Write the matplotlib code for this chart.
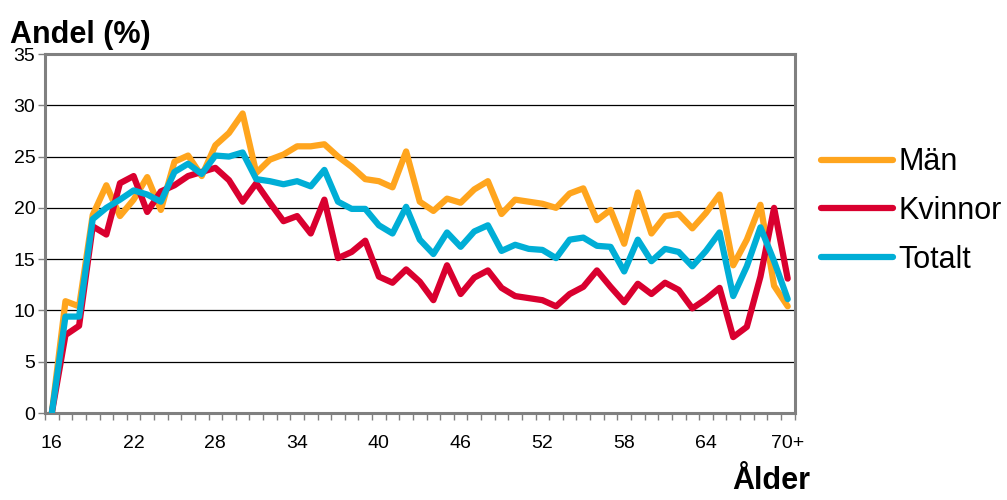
import numpy as np
import matplotlib
matplotlib.use("Agg")
import matplotlib.pyplot as plt

plt.rcParams['font.family'] = ['Liberation Sans', 'DejaVu Sans']

# ages 16..69 and 70+
ages = [str(a) for a in range(16, 70)] + ['70+']

man = [0, 10.9, 10.4, 19.3, 22.2, 19.2, 20.8, 23.0, 19.8, 24.5,
       25.1, 23.1, 26.1, 27.3, 29.2, 23.4, 24.7, 25.2, 26.0, 26.0,
       26.2, 25.0, 24.0, 22.8, 22.6, 22.0, 25.5, 20.6, 19.7, 20.9,
       20.5, 21.8, 22.6, 19.4, 20.8, 20.6, 20.4, 20.0, 21.4, 21.9,
       18.8, 19.8, 16.5, 21.5, 17.5, 19.2, 19.4, 18.0, 19.5, 21.3,
       14.4, 16.9, 20.3, 12.4, 10.4]
kvinnor = [0, 7.6, 8.5, 18.2, 17.4, 22.4, 23.1, 19.6, 21.6, 22.2,
           23.1, 23.5, 23.9, 22.7, 20.6, 22.4, 20.5, 18.7, 19.2, 17.5,
           20.8, 15.1, 15.7, 16.8, 13.3, 12.7, 14.0, 12.8, 11.0, 14.4,
           11.6, 13.2, 13.9, 12.2, 11.4, 11.2, 11.0, 10.4, 11.6, 12.3,
           13.9, 12.3, 10.8, 12.6, 11.6, 12.7, 12.0, 10.2, 11.1, 12.2,
           7.4, 8.4, 13.3, 20.0, 13.1]
totalt = [0, 9.4, 9.4, 18.9, 20.0, 20.8, 21.7, 21.3, 20.6, 23.5,
          24.3, 23.3, 25.1, 25.0, 25.4, 22.8, 22.6, 22.3, 22.6, 22.1,
          23.7, 20.6, 19.9, 19.9, 18.3, 17.5, 20.1, 16.9, 15.5, 17.6,
          16.2, 17.7, 18.3, 15.8, 16.4, 16.0, 15.9, 15.1, 16.9, 17.1,
          16.3, 16.2, 13.8, 16.9, 14.8, 16.0, 15.7, 14.3, 15.8, 17.6,
          11.4, 14.3, 18.1, 14.8, 11.1]

series = [('Män', man, '#FFA51E'),
          ('Kvinnor', kvinnor, '#D9002F'),
          ('Totalt', totalt, '#00AED6')]

fig = plt.figure(figsize=(10.07, 5.0), dpi=100)
ax = fig.add_axes([0.0447, 0.174, 0.7443, 0.718])

x = np.arange(len(ages))
for name, vals, col in series:
    ax.plot(x, vals, color=col, lw=4.5, label=name,
            solid_capstyle='round', solid_joinstyle='round', zorder=3)

ax.set_xlim(-0.5, len(ages) - 0.5)
ax.set_ylim(0, 35)
ax.set_yticks(range(0, 36, 5))
ax.yaxis.grid(True, color='black', lw=0.9)
ax.set_axisbelow(True)

ax.set_xticks(x[::6])
ax.set_xticklabels(ages[::6])
ax.set_xticks(np.arange(-0.5, len(ages), 1), minor=True)
ax.tick_params(axis='x', which='major', length=0, pad=16, labelsize=14)
ax.tick_params(axis='x', which='minor', length=5, width=1, color='#808080', direction='out')
ax.tick_params(axis='y', length=5, width=1, color='#808080', labelsize=14, pad=2)

for s in ax.spines.values():
    s.set_color('#808080')
    s.set_linewidth(2.2)

fig.text(0.010, 0.915, 'Andel (%)', fontsize=22, fontweight='bold')
fig.text(0.727, 0.022, 'Ålder', fontsize=22, fontweight='bold')

fig.legend(loc='upper left', bbox_to_anchor=(0.815, 0.705), frameon=False,
           fontsize=22, handlelength=2.35, handletextpad=0.2, labelspacing=0.61,
           borderpad=0, borderaxespad=0)

fig.savefig('out.png', dpi=100)
